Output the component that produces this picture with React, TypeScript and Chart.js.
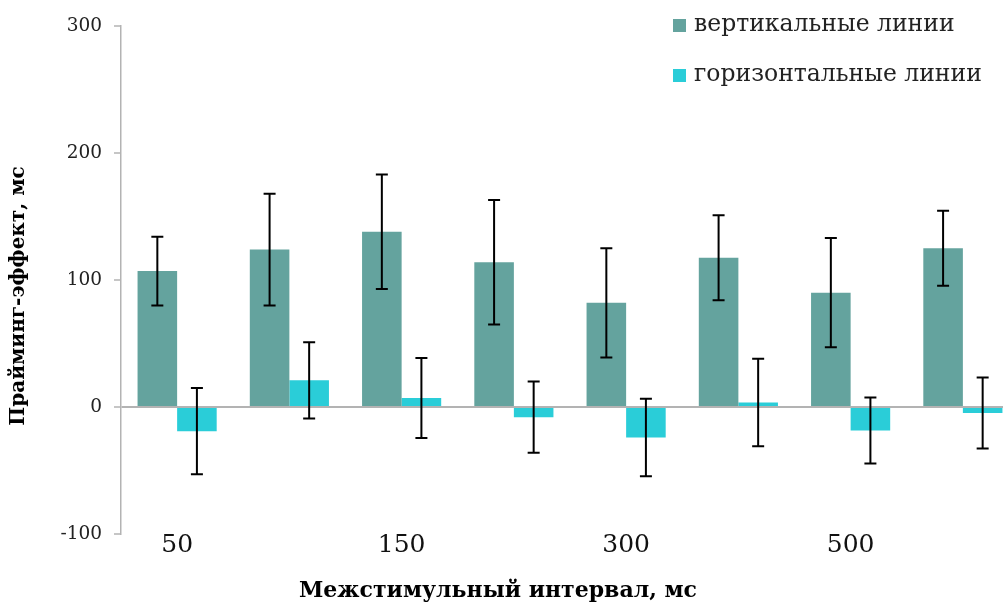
import React, { useEffect, useRef } from "react";
import { Chart, registerables } from "chart.js";

Chart.register(...registerables);

// Interstimulus intervals (only every other one is labelled on the axis)
const intervalLabels = ["50", "", "150", "", "300", "", "500", ""];

// Priming effect (ms) and error half-widths for each line orientation
const verticalMeans = [107, 124, 138, 114, 82, 117.5, 90, 125];
const verticalErrors = [27, 44, 45, 49, 43, 33.5, 43, 29.5];
const horizontalMeans = [-19, 21, 7, -8, -24, 3.5, -18.5, -4.7];
const horizontalErrors = [34, 30, 31.5, 28, 30.5, 34.5, 26, 28];

const seriesNames = ["вертикальные линии", "горизонтальные линии"];
const seriesColors = ["#64a39e", "#2acdd8"];

const yTitle = "Прайминг-эффект, мс";
const xTitle = "Межстимульный интервал, мс";

const FONT = "'DejaVu Serif', 'Liberation Serif', serif";

const errorBarPlugin = {
  id: "errorBars",
  afterDatasetsDraw(chart: any) {
    const ctx = chart.ctx;
    const yScale = chart.scales.y;
    ctx.save();
    ctx.strokeStyle = "#000";
    ctx.lineWidth = 2;
    chart.data.datasets.forEach((ds: any, i: number) => {
      const meta = chart.getDatasetMeta(i);
      meta.data.forEach((bar: any, j: number) => {
        const v = ds.data[j];
        const e = ds.errors[j];
        const yTop = yScale.getPixelForValue(v + e);
        const yBot = yScale.getPixelForValue(v - e);
        const x = bar.x;
        const cap = 6;
        ctx.beginPath();
        ctx.moveTo(x, yTop);
        ctx.lineTo(x, yBot);
        ctx.moveTo(x - cap, yTop);
        ctx.lineTo(x + cap, yTop);
        ctx.moveTo(x - cap, yBot);
        ctx.lineTo(x + cap, yBot);
        ctx.stroke();
      });
    });
    ctx.restore();
  },
};

const annotationsPlugin = {
  id: "titlesAndLegend",
  afterDraw(chart: any) {
    const ctx = chart.ctx;
    ctx.save();
    ctx.fillStyle = "#000";
    // axis titles
    ctx.font = `bold 20px ${FONT}`;
    ctx.textAlign = "center";
    ctx.textBaseline = "middle";
    ctx.save();
    ctx.translate(19, 296);
    ctx.rotate(-Math.PI / 2);
    ctx.fillText(yTitle, 0, 0);
    ctx.restore();
    ctx.font = `bold 22px ${FONT}`;
    ctx.fillText(xTitle, 498, 591);

    // legend
    ctx.font = `23.5px ${FONT}`;
    ctx.textAlign = "left";
    chart.data.datasets.forEach((ds: any, i: number) => {
      const cy = 25 + i * 50;
      ctx.fillStyle = ds.backgroundColor;
      ctx.fillRect(673, cy - 6, 13, 13);
      ctx.fillStyle = "#222";
      ctx.fillText(ds.label, 694, cy);
    });
    ctx.restore();
  },
};

export default function App() {
  const canvasRef = useRef<HTMLCanvasElement | null>(null);

  useEffect(() => {
    if (!canvasRef.current) return;
    const chart = new Chart(canvasRef.current, {
      type: "bar",
      data: {
        labels: intervalLabels,
        datasets: [
          {
            label: seriesNames[0],
            data: verticalMeans,
            errors: verticalErrors,
            backgroundColor: seriesColors[0],
            borderWidth: 0,
            categoryPercentage: 0.705,
            barPercentage: 1,
          } as any,
          {
            label: seriesNames[1],
            data: horizontalMeans,
            errors: horizontalErrors,
            backgroundColor: seriesColors[1],
            borderWidth: 0,
            categoryPercentage: 0.705,
            barPercentage: 1,
          } as any,
        ],
      },
      options: {
        responsive: false,
        animation: false,
        layout: { padding: { top: 26, right: 1, left: 0, bottom: 0 } },
        plugins: {
          legend: { display: false },
          tooltip: { enabled: false },
        },
        scales: {
          x: {
            grid: { display: false },
            border: { display: false },
            ticks: {
              autoSkip: false,
              maxRotation: 0,
              padding: -12,
              color: "#111",
              font: { family: FONT, size: 25 },
            },
            afterFit: (s: any) => {
              s.height = 73;
            },
          },
          y: {
            min: -100,
            max: 300,
            ticks: {
              stepSize: 100,
              padding: 12,
              color: "#222",
              font: { family: FONT, size: 18.5 },
            },
            grid: {
              color: (c: any) => (c.tick && c.tick.value === 0 ? "#b3b3b3" : "rgba(0,0,0,0)"),
              lineWidth: 2,
              tickColor: "#b3b3b3",
              tickLength: 7,
              tickWidth: 1.5,
            },
            border: { color: "#b3b3b3", width: 1.5 },
            afterFit: (s: any) => {
              s.width = 121;
            },
          },
        },
      },
      plugins: [errorBarPlugin, annotationsPlugin],
    } as any);
    return () => chart.destroy();
  }, []);

  return (
    <div
      style={{
        position: "fixed",
        left: 0,
        top: 0,
        width: 1003,
        height: 607,
        overflow: "hidden",
        background: "#fff",
      }}
    >
      <canvas ref={canvasRef} width={1020} height={607} style={{ width: 1020, height: 607, display: "block" }} />
    </div>
  );
}
